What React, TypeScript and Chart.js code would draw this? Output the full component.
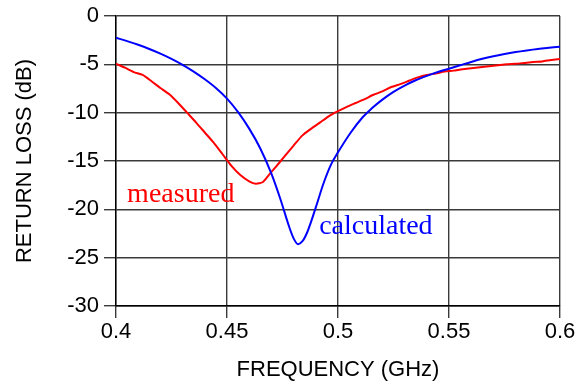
import React, { useEffect, useRef } from "react";
import { Chart, registerables } from "chart.js";

Chart.register(...registerables);

const MEASURED_F = [
  0.400, 0.404, 0.408, 0.412, 0.416, 0.420, 0.424, 0.428, 0.432, 0.436,
  0.440, 0.444, 0.448, 0.452, 0.456, 0.460, 0.463, 0.466, 0.469, 0.472,
  0.476, 0.480, 0.484, 0.488, 0.492, 0.496, 0.500, 0.504, 0.508, 0.512,
  0.516, 0.520, 0.524, 0.528, 0.532, 0.536, 0.540, 0.544, 0.548, 0.552,
  0.556, 0.560, 0.564, 0.568, 0.572, 0.576, 0.580, 0.584, 0.588, 0.592,
  0.596, 0.600,
];
const MEASURED_DB = [
  -4.95, -5.35, -5.8, -6.1, -6.75, -7.45, -8.1, -9.0, -10.0, -11.0,
  -12.05, -13.1, -14.3, -15.5, -16.45, -17.1, -17.35, -17.2, -16.4, -15.6,
  -14.5, -13.4, -12.35, -11.65, -11.0, -10.35, -9.85, -9.4, -9.0, -8.6,
  -8.15, -7.8, -7.35, -7.05, -6.7, -6.35, -6.1, -5.95, -5.75, -5.65,
  -5.5, -5.4, -5.3, -5.2, -5.1, -5.0, -4.95, -4.85, -4.75, -4.7,
  -4.55, -4.45,
];

const CALC_F = [
  0.400, 0.405, 0.410, 0.415, 0.420, 0.425, 0.430, 0.435, 0.440, 0.445,
  0.450, 0.455, 0.460, 0.465, 0.470, 0.474, 0.478, 0.480, 0.482, 0.484,
  0.486, 0.488, 0.490, 0.4935, 0.497, 0.500, 0.5056, 0.511, 0.515, 0.520,
  0.525, 0.530, 0.535, 0.540, 0.545, 0.550, 0.555, 0.560, 0.565, 0.570,
  0.575, 0.580, 0.585, 0.590, 0.595, 0.600,
];
const CALC_DB = [
  -2.25, -2.6, -2.98, -3.41, -3.89, -4.43, -5.05, -5.75, -6.55, -7.45,
  -8.55, -9.95, -11.65, -13.7, -16.3, -18.9, -21.8, -23.0, -23.6, -23.3,
  -22.45, -21.2, -19.8, -17.3, -15.3, -14.1, -12.1, -10.5, -9.6, -8.65,
  -7.85, -7.2, -6.65, -6.2, -5.8, -5.45, -5.1, -4.75, -4.43, -4.16,
  -3.93, -3.73, -3.56, -3.41, -3.29, -3.18,
];

const X_TICKS = [0.4, 0.45, 0.5, 0.55, 0.6];
const X_TICK_LABELS = ["0.4", "0.45", "0.5", "0.55", "0.6"];
const Y_TICKS = [0, -5, -10, -15, -20, -25, -30];
const Y_TICK_LABELS = ["0", "-5", "-10", "-15", "-20", "-25", "-30"];

const SERIES_LABELS = [
  { text: "measured", x: 0.405, y: -19.2, color: "#ff0000" },
  { text: "calculated", x: 0.4915, y: -22.5, color: "#0000ff" },
];

const SANS = '"Liberation Sans", Arial, sans-serif';

export default function App() {
  const ref = useRef<HTMLCanvasElement | null>(null);

  useEffect(() => {
    if (!ref.current) return;
    const labelPlugin = {
      id: "seriesLabels",
      afterDatasetsDraw(chart: any) {
        const { ctx, scales } = chart;
        ctx.save();
        ctx.font = '28px "Liberation Serif", "Times New Roman", serif';
        ctx.textBaseline = "alphabetic";
        ctx.textAlign = "left";
        for (const l of SERIES_LABELS) {
          ctx.fillStyle = l.color;
          ctx.fillText(l.text, scales.x.getPixelForValue(l.x), scales.y.getPixelForValue(l.y));
        }
        ctx.restore();
      },
    };

    const chart = new Chart(ref.current, {
      type: "line",
      data: {
        datasets: [
          {
            label: "calculated",
            data: CALC_F.map((f, i) => ({ x: f, y: CALC_DB[i] })),
            borderColor: "#0000ff",
            borderWidth: 2,
            pointRadius: 0,
            cubicInterpolationMode: "monotone",
            fill: false,
          },
          {
            label: "measured",
            data: MEASURED_F.map((f, i) => ({ x: f, y: MEASURED_DB[i] })),
            borderColor: "#ff0000",
            borderWidth: 2,
            pointRadius: 0,
            tension: 0.2,
            fill: false,
          },
        ],
      },
      options: {
        animation: false,
        responsive: false,
        layout: { padding: { top: 12, right: 26, bottom: 0, left: 0 } },
        plugins: { legend: { display: false }, tooltip: { enabled: false } },
        scales: {
          x: {
            type: "linear",
            min: 0.4,
            max: 0.6,
            afterBuildTicks: (s: any) => {
              s.ticks = X_TICKS.map((v) => ({ value: v }));
            },
            afterFit: (s: any) => {
              s.height = 81;
            },
            ticks: {
              autoSkip: false,
              maxRotation: 0,
              color: "#000",
              padding: 3,
              font: { family: SANS, size: 22, lineHeight: 1 },
              callback: (v: any) => {
                const i = X_TICKS.findIndex((t) => Math.abs(t - Number(v)) < 1e-6);
                return i >= 0 ? X_TICK_LABELS[i] : "";
              },
            },
            grid: { color: "#3a3a3a", lineWidth: 1.4, tickLength: 12, drawTicks: true },
            border: { display: true, color: "#000", width: 1.4 },
            title: {
              display: true,
              text: "FREQUENCY (GHz)",
              color: "#000",
              font: { family: SANS, size: 22 },
              padding: { top: 0, bottom: 4 },
            },
          },
          y: {
            type: "linear",
            min: -30,
            max: 0,
            afterBuildTicks: (s: any) => {
              s.ticks = Y_TICKS.map((v) => ({ value: v }));
            },
            afterFit: (s: any) => {
              s.width = 116;
            },
            ticks: {
              autoSkip: false,
              color: "#000",
              padding: 5,
              font: { family: SANS, size: 22, lineHeight: 1 },
              callback: (v: any) => {
                const i = Y_TICKS.findIndex((t) => Math.abs(t - Number(v)) < 1e-6);
                return i >= 0 ? Y_TICK_LABELS[i] : "";
              },
            },
            grid: { color: "#3a3a3a", lineWidth: 1.4, tickLength: 12, drawTicks: true },
            border: { display: true, color: "#000", width: 1.4 },
            title: {
              display: true,
              text: "RETURN LOSS (dB)",
              color: "#000",
              font: { family: SANS, size: 22 },
              padding: { top: 12, bottom: 0 },
            },
          },
        },
      },
      plugins: [labelPlugin],
    } as any);
    return () => chart.destroy();
  }, []);

  return (
    <div style={{ position: "fixed", left: 0, top: 0, width: 586, height: 387, background: "#fff" }}>
      <canvas ref={ref} width={586} height={387} style={{ display: "block" }} />
    </div>
  );
}
